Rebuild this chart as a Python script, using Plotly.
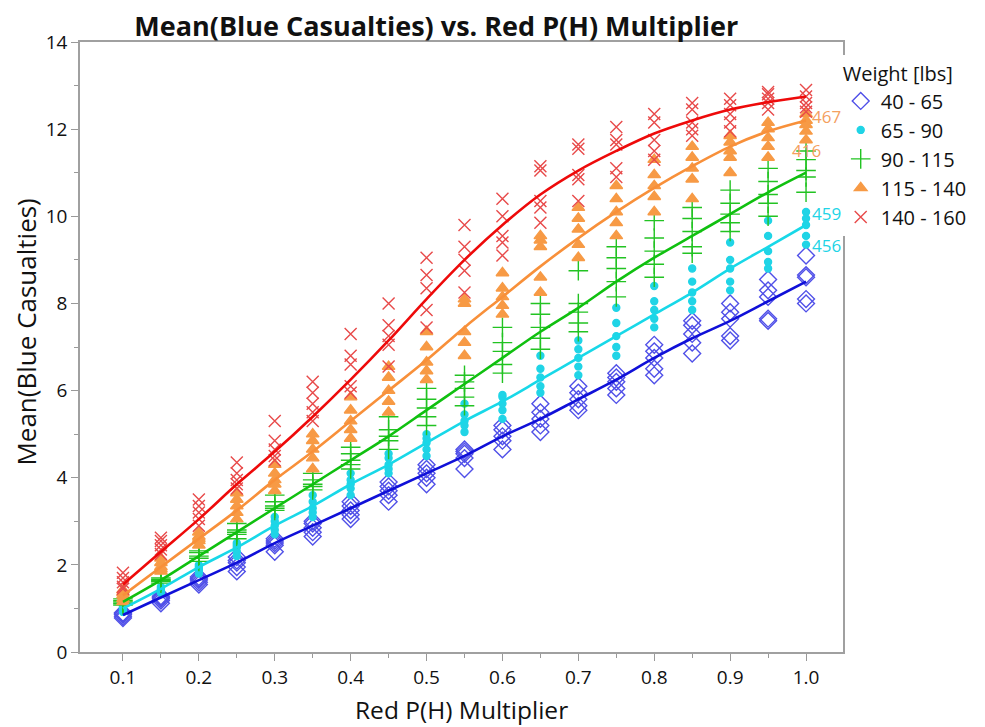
import plotly.graph_objects as go


# x levels of Red P(H) Multiplier
x_levels = [0.1, 0.15, 0.2, 0.25, 0.3, 0.35, 0.4, 0.45, 0.5, 0.55,
            0.6, 0.65, 0.7, 0.75, 0.8, 0.85, 0.9, 0.95, 1.0]

groups = ['40 - 65', '65 - 90', '90 - 115', '115 - 140', '140 - 160']

# mean blue casualties, 5 runs per x level for each weight group
w40_65 = [[0.78, 0.82, 0.86, 0.90, 0.88], [1.12, 1.18, 1.22, 1.28, 1.25],
          [1.55, 1.60, 1.65, 1.72, 1.68], [1.85, 1.95, 2.05, 2.10, 2.18],
          [2.30, 2.45, 2.50, 2.55, 2.60], [2.65, 2.75, 2.85, 2.95, 3.00],
          [3.05, 3.15, 3.25, 3.35, 3.45], [3.45, 3.60, 3.70, 3.80, 3.90],
          [3.85, 4.00, 4.10, 4.20, 4.30], [4.20, 4.45, 4.55, 4.65, 4.60],
          [4.65, 4.85, 4.95, 5.10, 5.20], [5.05, 5.20, 5.35, 5.50, 5.70],
          [5.55, 5.65, 5.80, 5.95, 6.10], [5.90, 6.05, 6.20, 6.30, 6.40],
          [6.35, 6.50, 6.75, 6.90, 7.05], [6.85, 7.10, 7.30, 7.50, 7.60],
          [7.15, 7.25, 7.65, 7.80, 8.00], [7.60, 7.65, 8.15, 8.30, 8.55],
          [8.00, 8.10, 8.60, 8.65, 9.10]]
w65_90 = [[0.92, 0.97, 1.00, 1.03, 1.07], [1.36, 1.42, 1.46, 1.50, 1.40],
          [1.80, 1.88, 1.95, 2.00, 1.90], [2.20, 2.30, 2.40, 2.45, 2.50],
          [2.70, 2.80, 2.90, 3.00, 3.10], [3.10, 3.20, 3.30, 3.45, 3.60],
          [3.60, 3.75, 3.85, 3.95, 4.10], [4.10, 4.20, 4.30, 4.45, 4.55],
          [4.50, 4.65, 4.80, 4.90, 5.00], [5.05, 5.20, 5.30, 5.45, 5.70],
          [5.35, 5.55, 5.70, 5.85, 5.90], [5.95, 6.10, 6.30, 6.50, 6.80],
          [6.35, 6.55, 6.75, 6.95, 7.15], [6.80, 7.00, 7.25, 7.55, 7.90],
          [7.45, 7.65, 7.85, 8.05, 8.40], [7.85, 8.05, 8.25, 8.50, 8.80],
          [8.30, 8.50, 8.80, 9.00, 9.40], [8.80, 8.95, 9.20, 9.55, 9.90],
          [9.35, 9.55, 9.80, 9.95, 10.10]]
w90_115 = [[1.08, 1.12, 1.15, 1.18, 1.22], [1.58, 1.62, 1.66, 1.70, 1.64],
           [2.08, 2.15, 2.20, 2.28, 2.32], [2.60, 2.70, 2.75, 2.80, 2.95],
           [3.25, 3.30, 3.35, 3.45, 3.60], [3.72, 3.80, 3.85, 3.95, 4.10],
           [4.20, 4.30, 4.40, 4.55, 4.70], [4.65, 4.85, 4.95, 5.10, 5.40],
           [5.20, 5.40, 5.60, 5.80, 6.05], [5.65, 5.85, 6.05, 6.20, 6.35],
           [6.40, 6.60, 6.90, 7.10, 7.45], [6.95, 7.20, 7.45, 7.75, 8.00],
           [7.35, 7.55, 7.80, 8.00, 8.75], [8.15, 8.50, 8.80, 9.05, 9.30],
           [8.60, 8.90, 9.20, 9.50, 9.90], [9.15, 9.30, 9.65, 9.95, 10.20],
           [9.65, 9.85, 10.05, 10.30, 10.60], [10.00, 10.30, 10.50, 10.80, 11.10],
           [10.55, 10.90, 11.05, 11.30, 11.50]]
w115_140 = [[1.15, 1.22, 1.30, 1.36, 1.42], [1.85, 1.95, 2.05, 2.15, 1.90],
            [2.45, 2.55, 2.65, 2.75, 2.60], [3.05, 3.20, 3.35, 3.50, 3.65],
            [3.70, 3.85, 3.95, 4.10, 4.30], [4.20, 4.45, 4.65, 4.85, 5.00],
            [4.90, 5.10, 5.30, 5.55, 5.85], [5.50, 5.75, 6.00, 6.30, 6.55],
            [6.25, 6.45, 6.65, 7.00, 7.35], [6.80, 7.10, 7.35, 8.00, 8.10],
            [7.75, 7.95, 8.15, 8.35, 8.70], [8.25, 8.60, 9.30, 9.45, 9.55],
            [9.05, 9.35, 9.70, 9.95, 10.20], [9.55, 9.85, 10.10, 10.40, 10.70],
            [10.10, 10.45, 10.70, 10.95, 11.30], [10.40, 10.85, 11.10, 11.35, 11.60],
            [11.00, 11.35, 11.50, 11.70, 11.85], [11.35, 11.60, 11.80, 12.00, 12.15],
            [11.75, 11.95, 12.10, 12.20, 12.35]]
w140_160 = [[1.45, 1.50, 1.60, 1.70, 1.82], [2.25, 2.35, 2.45, 2.55, 2.62],
            [2.90, 3.05, 3.20, 3.35, 3.50], [3.75, 3.85, 3.95, 4.10, 4.35],
            [4.40, 4.50, 4.65, 4.85, 5.30], [5.30, 5.50, 5.70, 5.95, 6.20],
            [5.95, 6.10, 6.60, 6.80, 7.30], [6.55, 7.05, 7.25, 7.50, 8.00],
            [7.45, 7.85, 8.35, 8.65, 9.05], [8.25, 8.75, 9.00, 9.30, 9.80],
            [9.10, 9.40, 9.55, 10.00, 10.40], [9.85, 10.20, 10.35, 11.05, 11.15],
            [10.35, 10.85, 10.95, 11.55, 11.65], [10.90, 11.10, 11.65, 11.75, 12.05],
            [11.30, 11.50, 11.75, 12.15, 12.35], [11.85, 12.00, 12.15, 12.45, 12.60],
            [11.95, 12.15, 12.35, 12.55, 12.70], [12.45, 12.60, 12.70, 12.80, 12.85],
            [12.40, 12.50, 12.60, 12.75, 12.90]]

# smoothed fit per group
fit40_65 = [0.85, 1.25, 1.65, 2.05, 2.5, 2.9, 3.3, 3.7, 4.1, 4.5,
            4.95, 5.35, 5.8, 6.25, 6.75, 7.2, 7.6, 8.05, 8.5]
fit65_90 = [1.0, 1.45, 1.95, 2.4, 2.9, 3.35, 3.85, 4.3, 4.8, 5.3,
            5.75, 6.25, 6.75, 7.25, 7.75, 8.25, 8.8, 9.3, 9.8]
fit90_115 = [1.15, 1.65, 2.2, 2.75, 3.3, 3.85, 4.4, 4.95, 5.55, 6.15,
             6.75, 7.35, 7.9, 8.5, 9.05, 9.55, 10.05, 10.55, 11.0]
fit115_140 = [1.3, 1.95, 2.6, 3.25, 3.95, 4.6, 5.3, 6.0, 6.7, 7.45,
              8.15, 8.85, 9.5, 10.1, 10.65, 11.15, 11.6, 11.95, 12.2]
fit140_160 = [1.55, 2.3, 3.05, 3.85, 4.6, 5.4, 6.25, 7.15, 8.1, 9.0,
              9.8, 10.5, 11.05, 11.5, 11.9, 12.2, 12.45, 12.62, 12.75]

# row labels shown at the right edge
label_text = ['467', '416', '459', '456']
label_y = [12.3, 11.5, 10.07, 9.33]
label_color = ['#f4a060', '#f4a060', '#20d4e6', '#20d4e6']
label_anchor = ['left', 'center', 'left', 'left']

runs = [w40_65, w65_90, w90_115, w115_140, w140_160]
fits = [fit40_65, fit65_90, fit90_115, fit115_140, fit140_160]
symbols = ['diamond-open', 'circle', 'cross-thin-open', 'triangle-up', 'x-thin-open']
sizes = [13, 7, 14, 11, 12]
marker_colors = ['#5050e8', '#20d4e6', '#22c322', '#f79a45', '#e84a4a']
line_colors = ['#1010d8', '#18d8e8', '#10c010', '#f8903a', '#ee0a0a']

fig = go.Figure()

for name, data, sym, sz, col in zip(groups, runs, symbols, sizes, marker_colors):
    xs = []
    ys = []
    for xv, vals in zip(x_levels, data):
        for v in vals:
            xs.append(xv)
            ys.append(v)
    fig.add_trace(go.Scatter(
        x=xs, y=ys, mode='markers', name=name,
        marker=dict(symbol=sym, size=sz, color=col, line=dict(color=col, width=1.4)),
    ))

for name, fit, col in zip(groups, fits, line_colors):
    fig.add_trace(go.Scatter(
        x=x_levels, y=fit, mode='lines', showlegend=False,
        line=dict(color=col, width=2.6, shape='spline'), hoverinfo='skip',
    ))

for t, yv, c, anc in zip(label_text, label_y, label_color, label_anchor):
    fig.add_annotation(x=1.0, y=yv, text=t, showarrow=False, xanchor=anc,
                       xshift=4 if anc == 'left' else 0,
                       font=dict(family='Open Sans', size=17, color=c))

# axis titles
fig.add_annotation(x=0.5, y=-0.095, xref='paper', yref='paper', text='Red P(H) Multiplier',
                   showarrow=False, xanchor='center', yanchor='middle',
                   font=dict(family='Open Sans', size=24.5, color='#111111'))
fig.add_annotation(x=-0.071, y=0.525, xref='paper', yref='paper', text='Mean(Blue Casualties)',
                   showarrow=False, xanchor='center', yanchor='middle', textangle=-90,
                   font=dict(family='Open Sans', size=26, color='#111111'))

axis_font = dict(family='Open Sans', size=19, color='#111111')

# page body has an 8px margin, so the figure is a bit smaller than the window
fig.update_layout(
    width=977, height=719,
    margin=dict(l=72, r=142, t=34, b=75),
    paper_bgcolor='white', plot_bgcolor='white',
    title=dict(text='<b>Mean(Blue Casualties) vs. Red P(H) Multiplier</b>',
               x=0.467, xref='paper', xanchor='center', y=0.974, yanchor='middle',
               font=dict(family='Open Sans', size=27, color='#111111')),
    legend=dict(title=dict(text='Weight [lbs]', font=dict(family='Open Sans', size=20, color='#111111')),
                x=0.997, y=0.978, xanchor='left', yanchor='top',
                font=dict(family='Open Sans', size=20, color='#111111'),
                tracegroupgap=0, itemsizing='trace', itemwidth=30),
)

fig.update_xaxes(
    range=[0.0434, 1.0487], tickvals=[0.1, 0.2, 0.3, 0.4, 0.5, 0.6, 0.7, 0.8, 0.9, 1.0],
    tickformat='.1f', ticks='outside', ticklen=7, tickcolor='#999999',
    minor=dict(tickvals=[0.15, 0.25, 0.35, 0.45, 0.55, 0.65, 0.75, 0.85, 0.95],
               ticks='outside', ticklen=4, tickcolor='#999999'),
    showline=True, linecolor='#a0a0a0', linewidth=1.5, mirror=True,
    showgrid=False, zeroline=False, tickfont=axis_font, automargin=False,
)
fig.update_yaxes(
    range=[0, 14], dtick=2, ticks='outside', ticklen=7, tickcolor='#999999',
    minor=dict(dtick=1, ticks='outside', ticklen=4, tickcolor='#999999'),
    showline=True, linecolor='#a0a0a0', linewidth=1.5, mirror=True,
    showgrid=False, zeroline=False, tickfont=axis_font, automargin=False,
)

fig.write_html('out.html')
